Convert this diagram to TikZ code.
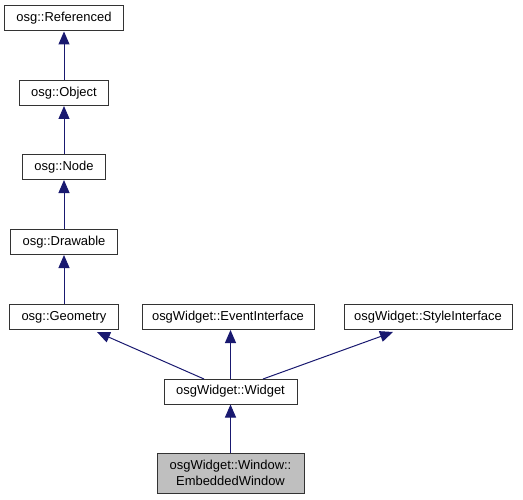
\documentclass[tikz,border=0pt]{standalone}
\usepackage{fontspec}
\setmainfont{Liberation Sans}
\usetikzlibrary{arrows.meta}
\definecolor{edgeblue}{HTML}{191970}
\tikzset{
  cls/.style={draw=black!80, line width=1bp, fill=white, inner sep=0pt,
    font=\fontsize{13}{15.5}\selectfont, align=center},
  inh/.style={draw=edgeblue, line width=1bp,
    {Triangle[length=13bp,width=11bp,fill=edgeblue]}-},
}
\begin{document}
\begin{tikzpicture}[x=1bp,y=-1bp]
\useasboundingbox (0,0) rectangle (523,500);
\node[cls, minimum width=118bp, minimum height=25bp] (ref) at (64,18.5) {osg::Referenced};
\node[cls, minimum width=89bp, minimum height=25bp] (obj) at (64,93) {osg::Object};
\node[cls, minimum width=83bp, minimum height=25bp] (nod) at (64,167) {osg::Node};
\node[cls, minimum width=107bp, minimum height=25bp] (drw) at (64,242) {osg::Drawable};
\node[cls, minimum width=108bp, minimum height=25bp] (geo) at (64,317) {osg::Geometry};
\node[cls, minimum width=172bp, minimum height=25bp] (evt) at (228,317) {osgWidget::EventInterface};
\node[cls, minimum width=168bp, minimum height=25bp] (sty) at (428,317) {osgWidget::StyleInterface};
\node[cls, minimum width=133bp, minimum height=25bp] (wid) at (230.5,391.5) {osgWidget::Widget};
\node[cls, fill=black!25, minimum width=147bp, minimum height=40bp] (emb) at (230.5,473) {osgWidget::Window::\\EmbeddedWindow};
\draw[inh] (ref.south) -- (obj.north);
\draw[inh] (obj.south) -- (nod.north);
\draw[inh] (nod.south) -- (drw.north);
\draw[inh] (drw.south) -- (geo.north);
\coordinate (gtip) at (97,332);
\coordinate (wl) at (204,379);
\draw[inh] (gtip) -- (wl);
\draw[inh] (evt.south -| wid.north) -- (wid.north);
\coordinate (stip) at (393,332);
\coordinate (wr) at (263,379);
\draw[inh] (stip) -- (wr);
\draw[inh] (wid.south) -- (emb.north);
\end{tikzpicture}
\end{document}
